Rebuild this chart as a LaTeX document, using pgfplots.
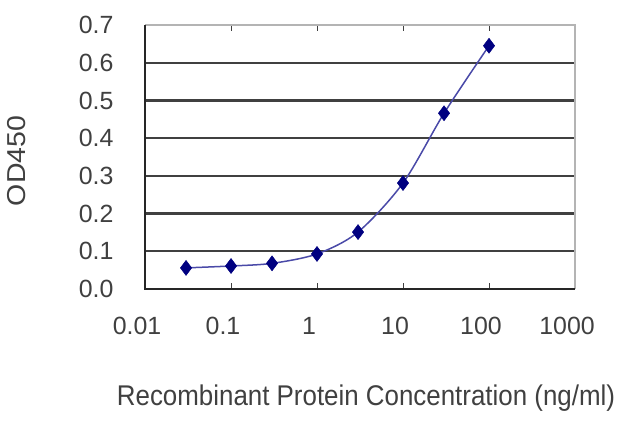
\documentclass[border=0pt]{standalone}
\usepackage{pgfplots}
\pgfplotsset{compat=1.18}
\usepackage{fontspec}
\setmainfont{Liberation Sans}
\definecolor{navyc}{HTML}{000080}
\definecolor{linec}{HTML}{4A4AA8}
\definecolor{gridc}{HTML}{404040}
\definecolor{framec}{HTML}{B4B4B4}
\definecolor{textc}{HTML}{404040}
\begin{document}
\begin{tikzpicture}[x=1bp,y=1bp]
\path[use as bounding box] (0,0) rectangle (640,427);
\begin{axis}[
  at={(145bp,138bp)}, anchor=south west,
  scale only axis, width=430bp, height=264bp,
  xmode=log, xmin=0.01, xmax=1000,
  ymin=0, ymax=0.7,
  xtick={0.01,0.1,1,10,100,1000},
  xticklabels={0.01,0.1,1,10,100,1000},
  ytick={0,0.1,0.2,0.3,0.4,0.5,0.6,0.7},
  yticklabels={0.0,0.1,0.2,0.3,0.4,0.5,0.6,0.7},
  minor xtick={}, log basis x=10,
  axis line style={draw=none},
  ymajorgrids, grid style={gridc, line width=2.3bp},
  tick align=inside,
  xtick style={gridc, line width=1bp},
  major tick length=6bp,
  ytick style={draw=none},
  tick label style={font=\fontsize{25}{28}\selectfont, text=textc},
  xticklabel style={yshift=-25bp, xshift=-8bp},
  yticklabel style={xshift=-28bp},
  clip=false,
]
\addplot[linec, line width=1.5bp, smooth, mark=diamond*, mark size=7.5bp,
  mark options={navyc, fill=navyc, line width=0.5bp}]
  coordinates {(0.03,0.056) (0.1,0.061) (0.3,0.068) (1,0.093) (3,0.151) (10,0.281) (30,0.466) (100,0.645)};
\draw[framec, line width=1.5bp] (rel axis cs:0,1) -- (rel axis cs:1,1) -- (rel axis cs:1,0);
\draw[black!85, line width=2bp] (rel axis cs:0,1) -- (rel axis cs:0,0) -- (rel axis cs:1,0);
\end{axis}
\node[text=textc, font=\fontsize{26}{30}\selectfont, yscale=1.1] at (366,29) {Recombinant Protein Concentration (ng/ml)};
\node[text=textc, font=\fontsize{26}{30}\selectfont, rotate=90, xscale=1.1] at (17,266) {OD450};
\end{tikzpicture}
\end{document}
